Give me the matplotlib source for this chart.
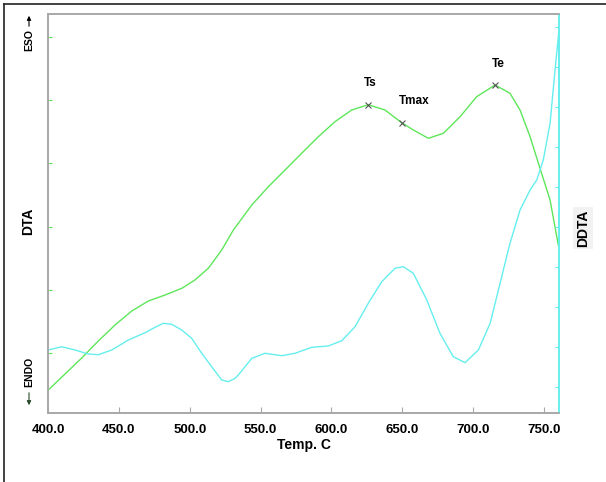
import matplotlib
matplotlib.use("Agg")
import matplotlib.pyplot as plt
from matplotlib.lines import Line2D

plt.rcParams['font.family'] = ['Liberation Sans', 'DejaVu Sans']

# DTA trace (green), temperature in C, signal in arbitrary units
temp_dta = [400.2, 412.0, 423.8, 435.5, 447.3, 459.1, 470.8, 482.6, 494.4, 503.7,
            513.1, 522.6, 530.8, 534.3, 543.8, 555.5, 567.3, 579.0, 590.8, 602.5,
            614.3, 626.0, 637.8, 649.6, 657.8, 668.4, 679.0, 690.8, 702.5, 715.5,
            726.0, 733.1, 740.2, 747.2, 754.3, 760.1]
dta = [23, 39, 55, 72, 88, 102, 112, 118, 124.7, 133,
       144.7, 163, 183, 189.7, 208, 226.3, 243, 259.7, 276.3, 291.3,
       303, 308.3, 303, 290.3, 283, 274.7, 279.7, 296.3, 316.3, 328,
       319.7, 303, 276.3, 244.7, 213, 168]

# DDTA trace (cyan)
temp_ddta = [400.2, 409.7, 419.1, 428.4, 435.5, 445.0, 456.7, 468.5, 475.5, 481.4,
             487.3, 494.4, 501.4, 508.5, 515.5, 522.6, 527.2, 532.0, 534.3, 543.8,
             553.1, 564.9, 574.3, 586.1, 597.8, 607.3, 616.7, 626.0, 635.5, 644.9,
             650.7, 657.8, 667.3, 676.6, 686.0, 694.3, 703.7, 712.0, 719.0, 726.0,
             733.1, 740.2, 744.9, 749.5, 754.3, 757.8, 760.6]
ddta = [63, 66.3, 63, 59, 58.3, 63, 73, 80.3, 85.7, 89.7,
        88.7, 83, 74.7, 59.7, 46.3, 33, 31.3, 34.7, 38, 54.7,
        59.7, 57.3, 59.7, 65.7, 67, 72.3, 86.3, 109.7, 131.3, 144.7,
        146.3, 139.7, 113, 79.7, 56.3, 50.3, 63, 89.7, 129.7, 169.7,
        203, 223, 233, 253, 289.7, 343, 383]

# characteristic points on the DTA curve
point_names = ['Ts', 'Tmax', 'Te']
point_temps = [626.0, 649.6, 715.5]
point_vals = [308.3, 290.3, 328]

x_ticks = [400, 450, 500, 550, 600, 650, 700, 750]

green = '#5ee65a'
cyan = '#66eeee'
gray = '#a8a8a8'

fig = plt.figure(figsize=(6.06, 4.82), dpi=100)
ax = fig.add_axes([48/606, 69/482, 511/606, 399/482])
ax2 = ax.twinx()

ax.plot(temp_dta, dta, color=green, lw=1.0, zorder=3)
ax2.plot(temp_ddta, ddta, color=cyan, lw=1.0)
ax.plot(point_temps, point_vals, 'x', color='#555555', ms=5, mew=0.8, zorder=4)

offsets = {'Ts': (1.5, 11), 'Tmax': (9, 11), 'Te': (2, 11)}
for name, t, v in zip(point_names, point_temps, point_vals):
    ax.annotate(name, (t, v), xytext=offsets[name], textcoords='offset points',
                ha='center', va='bottom', fontsize=8.5, fontweight='bold')

ax.set_xlim(400, 760.6)
ax.set_ylim(0, 399)
ax2.set_ylim(0, 399)

ax.set_xticks(x_ticks)
ax.set_xticklabels(['%.1f' % t for t in x_ticks], fontsize=9.5, fontweight='bold')
ax.tick_params(axis='x', direction='in', length=4, color=gray, pad=8)
ax.set_xlabel('Temp. C', fontsize=10, fontweight='bold', labelpad=1)

ax.set_yticks([60, 123, 186, 250, 313, 376])
ax.set_yticklabels([])
ax.tick_params(axis='y', direction='in', length=3, color=green)
ax2.set_yticks([26 + 40 * k for k in range(10)])
ax2.set_yticklabels([])
ax2.tick_params(axis='y', direction='in', length=3, color=cyan)

for a in (ax, ax2):
    for side in ('left', 'bottom', 'top'):
        a.spines[side].set_color(gray)
        a.spines[side].set_linewidth(1.2)
    a.spines['right'].set_color(cyan)
    a.spines['right'].set_linewidth(1.2)

# left-hand axis captions with direction arrows
fig.text(29/606, 1 - 40/482, 'ESO', rotation=90, ha='center', va='center',
         fontsize=7.5, fontweight='bold')
fig.text(28/606, 1 - 221/482, 'DTA', rotation=90, ha='center', va='center',
         fontsize=10, fontweight='bold')
fig.text(29/606, 1 - 372/482, 'ENDO', rotation=90, ha='center', va='center',
         fontsize=7.5, fontweight='bold')
fig.add_artist(plt.Annotation('', xy=(29/606, 1 - 13/482), xytext=(29/606, 1 - 29/482),
                              xycoords='figure fraction',
                              arrowprops=dict(arrowstyle='-|>', color='black', lw=0.8,
                                              mutation_scale=6)))
fig.add_artist(plt.Annotation('', xy=(29/606, 1 - 408/482), xytext=(29/606, 1 - 390/482),
                              xycoords='figure fraction',
                              arrowprops=dict(arrowstyle='-|>', color='#2a4a2a', lw=0.8,
                                              mutation_scale=6)))

fig.text(583/606, 1 - 228/482, 'DDTA', rotation=90, ha='center', va='center',
         fontsize=10, fontweight='bold',
         bbox=dict(facecolor='#f2f2f2', edgecolor='none', pad=2))

# outer frame (left and top edges)
fig.add_artist(Line2D([4/606, 4/606], [0, 1 - 4/482], color='#222222', lw=1.2))
fig.add_artist(Line2D([4/606, 1], [1 - 4/482, 1 - 4/482], color='#222222', lw=1.2))

fig.savefig('out.png', dpi=100)
